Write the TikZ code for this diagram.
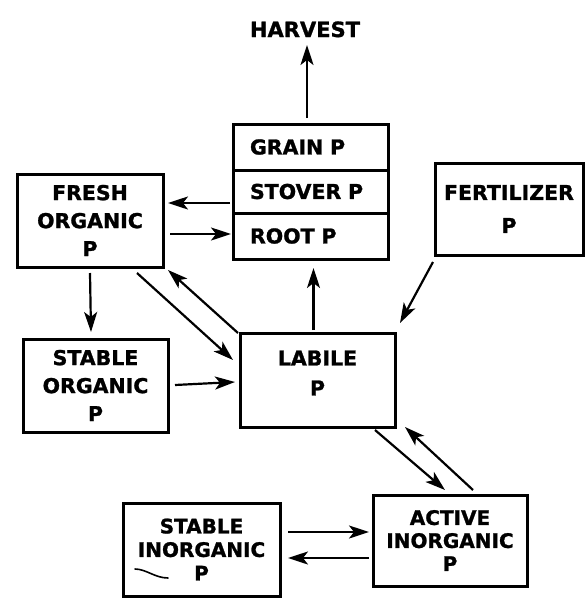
\documentclass[tikz,border=0pt]{standalone}
\usepackage{fontspec}
\setmainfont{DejaVu Sans}
\newfontfamily\lblfont[FakeBold=1.2]{DejaVu Sans Bold}
\usetikzlibrary{arrows.meta,calc}
\begin{document}
\begin{tikzpicture}[x=1pt,y=-1pt,
  box/.style={draw,line width=3pt,rectangle,outer sep=0pt,inner sep=0pt,align=center,
              font=\fontsize{20.5}{28}\selectfont\lblfont},
  row/.style={draw,line width=3pt,rectangle,outer sep=0pt,inner xsep=17pt,inner ysep=0pt,
              minimum width=155pt,text width=121pt,align=left,
              font=\fontsize{20.5}{24}\selectfont\lblfont},
  arr/.style={line width=2.2pt,-{Stealth[length=20pt,width=13pt,inset=5pt]}},
  ]
\useasboundingbox (0,0) rectangle (588,603);
% boxes
\node[box,minimum width=146pt,minimum height=93pt] (fresh) at (90,220.5) {FRESH\\ORGANIC\\P};
\node[row,minimum height=46pt] (grain) at (310.5,147) {GRAIN P};
\node[row,minimum height=43pt] (stover) at (310.5,191.5) {STOVER P};
\node[row,minimum height=46pt] (root) at (310.5,236) {ROOT P};
\node[box,minimum width=148pt,minimum height=92pt,font=\fontsize{20.5}{33}\selectfont\lblfont] (fert) at (509,209) {FERTILIZER\\P};
\node[box,minimum width=145pt,minimum height=93pt] (sorg) at (95.5,385.5) {STABLE\\ORGANIC\\P};
\node[box,minimum width=155pt,minimum height=94pt,
      label={[font=\fontsize{20.5}{30}\selectfont\lblfont,align=center,yshift=7pt]center:{LABILE\\P}}] (labile) at (317.5,380) {};
\node[box,minimum width=154pt,minimum height=91pt,font=\fontsize{20}{23}\selectfont\lblfont] (active) at (450,540.5) {ACTIVE\\INORGANIC\\P};
\node[box,minimum width=157pt,minimum height=93pt,font=\fontsize{20}{23.5}\selectfont\lblfont] (sinorg) at (201.5,549.5) {STABLE\\INORGANIC\\P};
\node[inner sep=0pt,font=\fontsize{21}{24}\selectfont\lblfont,anchor=base] (harvest) at (305,37) {HARVEST};
% connector end points
\coordinate (h0) at ($(grain.north)+(-3.5,-6)$);
\coordinate (s1) at ($(stover.west)+(-3,11.5)$);
\coordinate (e1) at ($(fresh.east)+(5,-17.5)$);
\coordinate (s2) at ($(fresh.east)+(7,13.5)$);
\coordinate (e2) at ($(root.west)+(-2,-2)$);
\coordinate (s3) at ($(fresh.south)+(0,6)$);
\coordinate (e3) at ($(sorg.north)+(-4.5,-7)$);
\coordinate (s4) at ($(fresh.south east)+(-26,6)$);
\coordinate (e4) at ($(labile.west)+(-7,-20)$);
\coordinate (s5) at ($(labile.north west)+(-2,0)$);
\coordinate (e5) at ($(fresh.south east)+(5,3)$);
\coordinate (s6) at ($(sorg.east)+(7,-0.5)$);
\coordinate (e6) at ($(labile.west)+(-5,2)$);
\coordinate (s7) at ($(labile.north)+(-4,-3)$);
\coordinate (e7) at ($(root.south)+(3,9)$);
\coordinate (s8) at ($(fert.south west)+(-2,7)$);
\coordinate (e8) at ($(labile.north east)+(5,-10)$);
\coordinate (s9) at ($(labile.south east)+(-20,3)$);
\coordinate (e9) at ($(active.north)+(-5,-5)$);
\coordinate (s10) at ($(active.north)+(23,-5)$);
\coordinate (e10) at ($(labile.south east)+(10,0)$);
\coordinate (s11) at ($(sinorg.east)+(8,-17.5)$);
\coordinate (e11) at ($(active.west)+(-4,-8.5)$);
\coordinate (s12) at ($(active.west)+(-4,17.5)$);
\coordinate (e12) at ($(sinorg.east)+(8,8.5)$);
% connectors
\draw[arr,shorten >=8pt] (h0) -- (h0 |- harvest.base);
\draw[arr] (s1) -- (e1);
\draw[arr] (s2) -- (e2);
\draw[arr] (s3) -- (e3);
\draw[arr] (s4) -- (e4);
\draw[arr] (s5) -- (e5);
\draw[arr] (s6) -- (e6);
\draw[arr] (s7) -- (e7);
\draw[arr] (s8) -- (e8);
\draw[arr] (s9) -- (e9);
\draw[arr] (s10) -- (e10);
\draw[arr] (s11) -- (e11);
\draw[arr] (s12) -- (e12);
% pen mark
\draw[line width=1.6pt,line cap=round] (135,569) .. controls (146,569) and (155,578) .. (168,578);
\end{tikzpicture}
\end{document}
